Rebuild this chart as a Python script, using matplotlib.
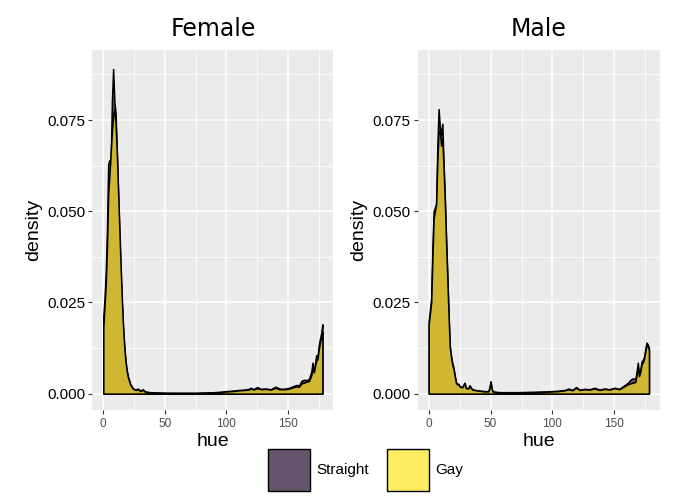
import matplotlib
matplotlib.use("Agg")
import matplotlib.pyplot as plt
import matplotlib.patches as patches
import numpy as np

# hue values (0-178) and density
female_hue = [0, 1, 2, 3, 4, 5, 6, 7, 8, 9, 10, 11, 12, 13, 14, 15, 16, 17, 18, 19, 20,
              22, 24, 26, 28, 30, 32, 34, 38,
              45, 55, 65, 75, 85, 95,
              100, 105, 110, 115, 118, 120, 122, 125, 128,
              132, 136, 140, 143, 146, 150, 154, 157, 159,
              161, 163, 165, 167, 169,
              170, 171, 172, 173, 174, 175, 176, 177, 178]
female_straight = [0.021, 0.026, 0.033, 0.045, 0.063, 0.064, 0.063, 0.080, 0.089, 0.080, 0.077,
                   0.066, 0.055, 0.044, 0.034, 0.025, 0.018, 0.013, 0.009, 0.0065, 0.0048,
                   0.0025, 0.0015, 0.0011, 0.0014, 0.0008, 0.0012, 0.0006, 0.0004,
                   0.0003, 0.0002, 0.0002, 0.0002, 0.0003, 0.0005,
                   0.0007, 0.0008, 0.0010, 0.0011, 0.0013, 0.0016, 0.0012, 0.0018, 0.0013,
                   0.0014, 0.0012, 0.0019, 0.0014, 0.0013, 0.0015, 0.0020, 0.0024, 0.0022,
                   0.0035, 0.0038, 0.0037, 0.0040, 0.0060,
                   0.0085, 0.0060, 0.0082, 0.0105, 0.0100, 0.0130, 0.0150, 0.0165, 0.0190]
female_gay = [0.018, 0.024, 0.030, 0.040, 0.055, 0.060, 0.066, 0.072, 0.076, 0.078, 0.074,
              0.066, 0.056, 0.046, 0.036, 0.027, 0.019, 0.013, 0.009, 0.0062, 0.0045,
              0.0024, 0.0014, 0.0010, 0.0012, 0.0007, 0.0010, 0.0005, 0.0003,
              0.0002, 0.0002, 0.0002, 0.0002, 0.0003, 0.0004,
              0.0006, 0.0007, 0.0009, 0.0010, 0.0011, 0.0014, 0.0011, 0.0015, 0.0012,
              0.0013, 0.0011, 0.0016, 0.0012, 0.0012, 0.0013, 0.0017, 0.0020, 0.0019,
              0.0028, 0.0030, 0.0033, 0.0034, 0.0050,
              0.0070, 0.0058, 0.0075, 0.0090, 0.0095, 0.0120, 0.0140, 0.0155, 0.0170]

male_hue = [0, 1, 2, 3, 4, 5, 6, 7, 8, 9, 10, 11, 12, 13, 14, 15, 16, 17, 18, 19, 20,
            21, 22, 23, 24, 25, 27, 29, 30, 32, 33, 35, 38, 41, 45, 48, 49, 50, 51, 52, 56,
            65, 75, 85, 95,
            100, 105, 110, 113, 116, 119, 122, 126, 130, 134, 138, 142, 146, 150, 154, 157, 159,
            161, 163, 165, 167, 168, 169,
            170, 171, 172, 173, 174, 175, 176, 177, 178]
male_straight = [0.020, 0.023, 0.026, 0.040, 0.050, 0.051, 0.052, 0.068, 0.078, 0.073, 0.071,
                 0.074, 0.063, 0.054, 0.043, 0.033, 0.022, 0.013, 0.0105, 0.0085, 0.0072,
                 0.0050, 0.0032, 0.0026, 0.0027, 0.0020, 0.0018, 0.0030, 0.0016, 0.0015, 0.0023,
                 0.0012, 0.0010, 0.0008, 0.0007, 0.0007, 0.0015, 0.0034, 0.0012, 0.0006, 0.0004,
                 0.0004, 0.0004, 0.0005, 0.0006,
                 0.0007, 0.0008, 0.0010, 0.0014, 0.0010, 0.0018, 0.0011, 0.0013, 0.0012, 0.0016,
                 0.0011, 0.0014, 0.0012, 0.0016, 0.0013, 0.0020, 0.0025,
                 0.0030, 0.0038, 0.0042, 0.0040, 0.0060, 0.0085,
                 0.0050, 0.0065, 0.0088, 0.0092, 0.0100, 0.0120, 0.0140, 0.0135, 0.0125]
male_gay = [0.019, 0.022, 0.025, 0.037, 0.048, 0.050, 0.052, 0.064, 0.072, 0.072, 0.068,
            0.070, 0.062, 0.053, 0.042, 0.032, 0.022, 0.013, 0.0100, 0.0080, 0.0068,
            0.0048, 0.0030, 0.0025, 0.0026, 0.0019, 0.0017, 0.0028, 0.0015, 0.0014, 0.0021,
            0.0011, 0.0009, 0.0008, 0.0006, 0.0006, 0.0013, 0.0031, 0.0011, 0.0005, 0.0004,
            0.0003, 0.0004, 0.0004, 0.0005,
            0.0006, 0.0007, 0.0009, 0.0012, 0.0009, 0.0016, 0.0010, 0.0012, 0.0011, 0.0014,
            0.0010, 0.0013, 0.0011, 0.0015, 0.0012, 0.0018, 0.0022,
            0.0026, 0.0028, 0.0030, 0.0032, 0.0050, 0.0075,
            0.0048, 0.0060, 0.0080, 0.0085, 0.0095, 0.0115, 0.0135, 0.0130, 0.0120]

groups = ["Straight", "Gay"]
panel_titles = ["Female", "Male"]

# base colours, drawn with alpha 0.7
colors = {"Straight": (39/255, 11/255, 46/255), "Gay": (1.0, 229/255, 32/255)}
ALPHA = 0.7

TEXT = "Liberation Sans"

fig = plt.figure(figsize=(7, 5), dpi=100)
ax_f = fig.add_axes([0.1319, 0.18, 0.3443, 0.72])
ax_m = fig.add_axes([0.5967, 0.18, 0.3461, 0.72])

panels = [
    (ax_f, female_hue, {"Straight": female_straight, "Gay": female_gay}),
    (ax_m, male_hue, {"Straight": male_straight, "Gay": male_gay}),
]

for (ax, hue, dens), title in zip(panels, panel_titles):
    ax.set_facecolor("#EBEBEB")
    for g in groups:
        fc = colors[g] + (ALPHA,)
        ax.fill_between(hue, dens[g], 0, facecolor=fc, edgecolor="black",
                        linewidth=1.1, zorder=3)
    ax.set_xlim(-8.9, 186.9)
    ax.set_ylim(-0.00449, 0.0942)
    ax.set_xticks([0, 50, 100, 150])
    ax.set_xticks([25, 75, 125, 175], minor=True)
    ax.set_yticks([0, 0.025, 0.05, 0.075])
    ax.set_yticks([0.0125, 0.0375, 0.0625, 0.0875], minor=True)
    ax.set_yticklabels(["0.000", "0.025", "0.050", "0.075"])
    ax.grid(True, which="major", color="white", linewidth=1.1, zorder=0)
    ax.grid(True, which="minor", color="white", linewidth=0.55, zorder=0)
    ax.set_axisbelow(True)
    for s in ax.spines.values():
        s.set_visible(False)
    ax.tick_params(which="major", length=3, width=0.8, color="#333333")
    ax.tick_params(which="minor", length=0)
    ax.tick_params(axis="y", labelsize=11, labelcolor="black", pad=2)
    ax.tick_params(axis="x", labelsize=8.5, labelcolor="#4D4D4D", pad=3)
    for lab in ax.get_xticklabels() + ax.get_yticklabels():
        lab.set_fontfamily(TEXT)
    ax.set_xlabel("hue", fontsize=14, family=TEXT, labelpad=2)
    ax.set_ylabel("density", fontsize=14, family=TEXT, labelpad=4)
    ax.set_title(title, fontsize=17, family="DejaVu Sans", pad=10)

# legend at the bottom
key_w, key_h = 42 / 700, 42 / 500
key_y = 9 / 500
key_x = {"Straight": 268.3 / 700, "Gay": 387 / 700}
for g in groups:
    fig.patches.append(patches.Rectangle((key_x[g], key_y), key_w, key_h,
                                         transform=fig.transFigure,
                                         facecolor=colors[g] + (ALPHA,),
                                         edgecolor="black", linewidth=1.0))
    fig.text(key_x[g] + key_w + 6 / 700, key_y + key_h / 2, g, fontsize=11,
             family=TEXT, va="center", ha="left")

fig.savefig("out.png", dpi=100)
